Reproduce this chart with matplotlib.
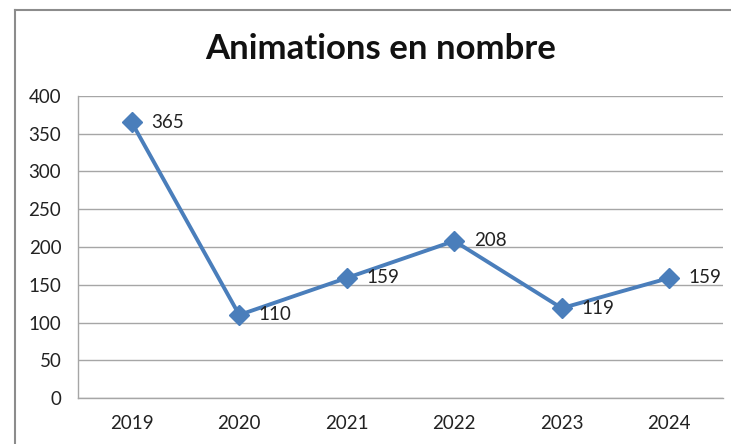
import matplotlib.pyplot as plt
from matplotlib.lines import Line2D

years = ['2019', '2020', '2021', '2022', '2023', '2024']
animations = [365, 110, 159, 208, 119, 159]
y_ticks = [0, 50, 100, 150, 200, 250, 300, 350, 400]

plt.rcParams['font.family'] = ['Lato', 'DejaVu Sans']

W, H = 731, 444
fig = plt.figure(figsize=(W / 100, H / 100), dpi=100)
ax = fig.add_axes([78 / W, 1 - 398 / H, 645 / W, 302 / H])

x = list(range(len(years)))
ax.plot(x, animations, color='#4a7ebb', lw=2.8, marker='D', ms=10,
        markerfacecolor='#4a7ebb', markeredgecolor='#4a7ebb', zorder=3)
for xi, v in zip(x, animations):
    ax.annotate(str(v), (xi, v), xytext=(14, 0), textcoords='offset points',
                va='center', ha='left', fontsize=13.5, color='#222222')

ax.set_xlim(-0.5, len(years) - 0.5)
ax.set_ylim(0, 400)
ax.set_xticks(x)
ax.set_xticklabels(years)
ax.set_yticks(y_ticks)
ax.tick_params(axis='both', length=0, labelsize=13.5, colors='#222222')
ax.tick_params(axis='x', pad=12)
ax.tick_params(axis='y', pad=12)
ax.grid(axis='y', color='#a6a6a6', lw=1)
ax.set_axisbelow(True)
for side in ['top', 'right']:
    ax.spines[side].set_visible(False)
for side in ['left', 'bottom']:
    ax.spines[side].set_color('#a6a6a6')
    ax.spines[side].set_linewidth(1)

fig.text(381 / W, 1 - 49 / H, 'Animations en nombre', ha='center', va='center',
         fontsize=25, fontweight='bold', color='#111111')

# chart frame (top and left edges visible)
fig.add_artist(Line2D([15 / W, 1], [1 - 10 / H, 1 - 10 / H], color='#8c8c8c', lw=1.5))
fig.add_artist(Line2D([15 / W, 15 / W], [0, 1 - 10 / H], color='#8c8c8c', lw=1.5))

fig.savefig('out.png', dpi=100)
